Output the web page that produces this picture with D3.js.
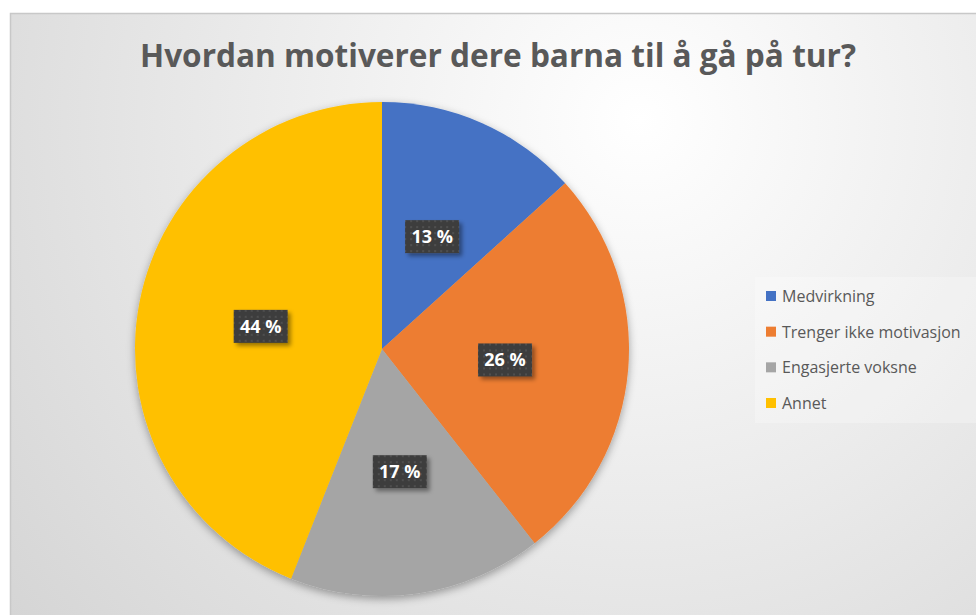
<!DOCTYPE html>
<html>
<head>
<meta charset="utf-8">
<script src="https://cdn.jsdelivr.net/npm/d3@7"></script>
<style>
  body { margin: 0; background: #fff; }
</style>
</head>
<body>
<div id="chart"></div>
<script>

var categories = ['Medvirkning', 'Trenger ikke motivasjon', 'Engasjerte voksne', 'Annet'];
var values = [13.3, 26.1, 16.6, 44.0];
var colorList = ['#4472C4', '#ED7D31', '#A5A5A5', '#FFC000'];
var title = 'Hvordan motiverer dere barna til å gå på tur?';

var width = 976,
    height = 615,
    cx = 382,
    cy = 349,
    radius = 247;

var svg = d3.select('#chart')
    .append('svg')
    .attr('width', width)
    .attr('height', height);

var defs = svg.append('defs');

var bg = defs.append('radialGradient')
    .attr('id', 'bg')
    .attr('gradientUnits', 'userSpaceOnUse')
    .attr('cx', 640).attr('cy', 120).attr('r', 820);
bg.append('stop').attr('offset', '0%').attr('stop-color', '#ffffff');
bg.append('stop').attr('offset', '45%').attr('stop-color', '#ececec');
bg.append('stop').attr('offset', '100%').attr('stop-color', '#d4d4d4');

defs.append('filter')
    .attr('id', 'pieShadow')
    .attr('x', '-20%').attr('y', '-20%').attr('width', '140%').attr('height', '140%')
    .append('feDropShadow')
    .attr('dx', 0).attr('dy', 3).attr('stdDeviation', 4)
    .attr('flood-color', '#000').attr('flood-opacity', 0.35);

defs.append('filter')
    .attr('id', 'boxShadow')
    .attr('x', '-30%').attr('y', '-30%').attr('width', '160%').attr('height', '160%')
    .append('feDropShadow')
    .attr('dx', 3).attr('dy', 3).attr('stdDeviation', 2)
    .attr('flood-color', '#000').attr('flood-opacity', 0.4);

var pat = defs.append('pattern')
    .attr('id', 'dots')
    .attr('patternUnits', 'userSpaceOnUse')
    .attr('width', 6).attr('height', 6);
pat.append('rect').attr('width', 6).attr('height', 6).attr('fill', '#3d3d3d');
pat.append('rect').attr('x', 2).attr('y', 2).attr('width', 2).attr('height', 2).attr('fill', '#4f4f4f');

// chart area
svg.append('rect')
    .attr('x', 10.5).attr('y', 13.5)
    .attr('width', width).attr('height', height)
    .attr('fill', 'url(#bg)')
    .attr('stroke', '#c8c8c8')
    .attr('stroke-width', 1.5);

svg.append('text')
    .attr('x', 498)
    .attr('y', 67)
    .attr('text-anchor', 'middle')
    .attr('font-family', 'Open Sans, sans-serif')
    .attr('font-weight', 'bold')
    .attr('font-size', 33)
    .attr('fill', '#595959')
    .attr('textLength', 716)
    .attr('lengthAdjust', 'spacingAndGlyphs')
    .text(title);

var color = d3.scaleOrdinal()
    .domain(categories)
    .range(colorList);

var pie = d3.pie()
    .sort(null)
    .value(d => d);

var arcs = pie(values);

var arc = d3.arc()
    .innerRadius(0)
    .outerRadius(radius);

var labelArc = d3.arc()
    .innerRadius(radius * 0.5)
    .outerRadius(radius * 0.5);

var g = svg.append('g')
    .attr('transform', 'translate(' + cx + ',' + cy + ')');

g.append('g')
    .attr('filter', 'url(#pieShadow)')
    .selectAll('path')
    .data(arcs)
    .enter()
    .append('path')
    .attr('d', arc)
    .attr('fill', (d, i) => color(categories[i]));

var total = d3.sum(values);

var labels = g.selectAll('.lbl')
    .data(arcs)
    .enter()
    .append('g')
    .attr('class', 'lbl')
    .attr('transform', d => 'translate(' + labelArc.centroid(d) + ')');

labels.append('rect')
    .attr('x', -27).attr('y', -16)
    .attr('width', 54).attr('height', 33)
    .attr('fill', 'url(#dots)')
    .attr('filter', 'url(#boxShadow)');

labels.append('text')
    .attr('text-anchor', 'middle')
    .attr('dy', 7)
    .attr('font-family', 'Open Sans, sans-serif')
    .attr('font-weight', 'bold')
    .attr('font-size', 18)
    .attr('fill', '#ffffff')
    .text(d => Math.round(d.value / total * 100) + ' %');

// legend
var legend = svg.append('g');

legend.append('rect')
    .attr('x', 755).attr('y', 277)
    .attr('width', 230).attr('height', 146)
    .attr('fill', '#ffffff')
    .attr('opacity', 0.25);

var legendY = d3.scalePoint()
    .domain(categories)
    .range([296, 403]);

var item = legend.selectAll('.item')
    .data(categories)
    .enter()
    .append('g')
    .attr('class', 'item')
    .attr('transform', d => 'translate(766,' + legendY(d) + ')');

item.append('rect')
    .attr('x', 0).attr('y', -5)
    .attr('width', 10).attr('height', 10)
    .attr('fill', d => color(d));

item.append('text')
    .attr('x', 16)
    .attr('dy', 6)
    .attr('font-family', 'Open Sans, sans-serif')
    .attr('font-size', 16)
    .attr('fill', '#595959')
    .text(d => d);

</script>
</body>
</html>
